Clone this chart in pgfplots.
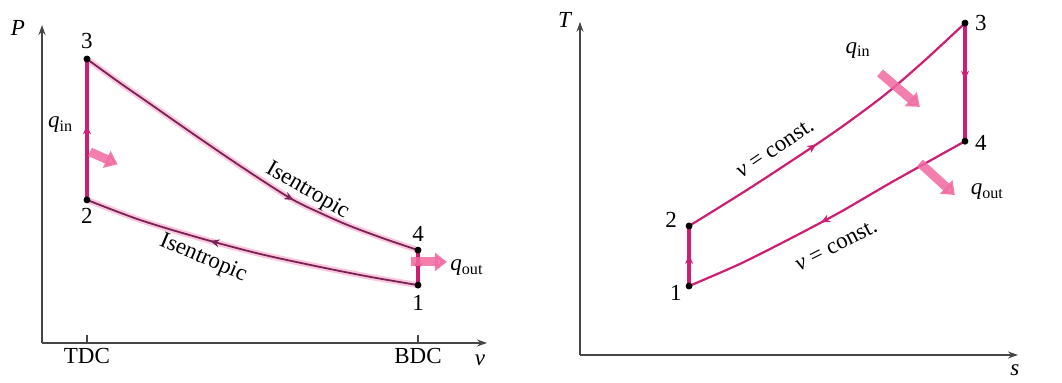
\documentclass[border=0pt]{standalone}
\usepackage{pgfplots}
\pgfplotsset{compat=1.18}
\usepackage{fontspec}
\setmainfont{Liberation Serif}
\usetikzlibrary{arrows.meta,decorations.markings}

\definecolor{mag}{RGB}{205,30,115}
\definecolor{darkmag}{RGB}{120,35,85}
\definecolor{halo}{RGB}{250,160,200}
\definecolor{heat}{RGB}{240,105,160}
\definecolor{axisgray}{RGB}{70,70,70}

\tikzset{
  midarrow/.style={postaction={decorate}, decoration={markings, mark=at position #1 with {\arrow{Stealth[length=4.5pt,width=4pt]}}}},
  heatarrow/.style={line width=4.5pt, heat, opacity=0.85, -{Triangle[length=6pt,width=9pt]}},
}

\pgfplotsset{
  cyc/.style={scale only axis, axis lines=left, xmin=0, xmax=10, ymin=0, ymax=10,
    axis line style={axisgray, line width=0.7pt, -{Stealth[length=5pt,width=3.5pt]}},
    clip=false, ytick=\empty, font=\fontsize{11.5}{13}\selectfont,
    tick style={axisgray, line width=0.7pt}}
}

\begin{document}
\begin{tikzpicture}
\path[use as bounding box] (0,0) rectangle (531pt,191.5pt);

% ---------------- P-v diagram ----------------
\begin{axis}[cyc, at={(21pt,20pt)}, anchor=south west, width=222.5pt, height=159pt,
  xtick={1.01,8.45}, xticklabels={TDC,BDC}, tick align=inside, major tick length=4pt,
  xticklabel style={yshift=1pt}]
  % halos
  \addplot[halo, line width=3pt, opacity=0.6, smooth] coordinates {
    (1.01,8.93) (1.75,8.18) (2.43,7.52) (3.33,6.64) (4.45,5.57) (5.57,4.56) (6.25,4.09) (6.92,3.68) (7.71,3.27) (8.45,2.92)};
  \addplot[halo, line width=3pt, opacity=0.6, smooth] coordinates {
    (8.45,1.82) (7.37,2.08) (6.25,2.39) (4.90,2.80) (3.55,3.30) (2.20,3.87) (1.01,4.50)};
  % isentropic expansion 3-4
  \addplot[darkmag, line width=0.9pt, smooth, midarrow=0.65] coordinates {
    (1.01,8.93) (1.75,8.18) (2.43,7.52) (3.33,6.64) (4.45,5.57) (5.57,4.56) (6.25,4.09) (6.92,3.68) (7.71,3.27) (8.45,2.92)};
  % isentropic compression 1-2
  \addplot[darkmag, line width=0.9pt, smooth, midarrow=0.62] coordinates {
    (8.45,1.82) (7.37,2.08) (6.25,2.39) (4.90,2.80) (3.55,3.30) (2.20,3.87) (1.01,4.50)};
  % constant volume 2-3 and 4-1
  \addplot[mag, line width=1.6pt, midarrow=0.53] coordinates {(1.01,4.50) (1.01,8.93)};
  \addplot[mag, line width=1.6pt, midarrow=0.62] coordinates {(8.45,2.92) (8.45,1.82)};
  % heat arrows
  \draw[heatarrow] (axis cs:1.08,6.01) -- (axis cs:1.70,5.62);
  \draw[heatarrow] (axis cs:8.30,2.55) -- (axis cs:9.10,2.55);
  % state points
  \addplot[only marks, mark=*, mark size=1.5pt, black] coordinates {(1.01,8.93) (1.01,4.50) (8.45,2.92) (8.45,1.82)};
  % labels
  \node at (axis cs:1.01,9.50) {3};
  \node at (axis cs:1.01,4.00) {2};
  \node at (axis cs:8.45,3.42) {4};
  \node at (axis cs:8.45,1.27) {1};
  \node at (axis cs:0.42,6.86) {\textit{q}\textsubscript{in}};
  \node at (axis cs:9.55,2.36) {\textit{q}\textsubscript{out}};
  \node[rotate=-30] at (axis cs:5.96,4.78) {Isentropic};
  \node[rotate=-23] at (axis cs:3.62,2.66) {Isentropic};
  \node at (axis cs:-0.54,9.90) {\textit{P}};
  \node at (axis cs:9.84,-0.53) {\textit{v}};
\end{axis}

% ---------------- T-s diagram ----------------
\begin{axis}[cyc, at={(290pt,14pt)}, anchor=south west, width=219pt, height=166.6pt,
  ymax=10.1, xtick=\empty]
  % constant volume 2-3
  \addplot[mag, line width=1.1pt, smooth, midarrow=0.44] coordinates {
    (2.49,3.91) (3.88,5.06) (5.37,6.36) (6.16,7.09) (7.01,7.94) (7.88,8.94) (8.79,10.06)};
  % constant volume 4-1
  \addplot[mag, line width=1.1pt, smooth, midarrow=0.53] coordinates {
    (8.79,6.48) (7.08,5.21) (5.94,4.33) (4.79,3.52) (3.65,2.76) (2.49,2.09)};
  % isentropic 1-2 and 3-4
  \addplot[mag, line width=1.6pt, midarrow=0.52] coordinates {(2.49,2.09) (2.49,3.91)};
  \addplot[mag, line width=1.6pt, midarrow=0.48] coordinates {(8.79,10.06) (8.79,6.48)};
  % heat arrows
  \draw[heatarrow] (axis cs:6.85,8.55) -- (axis cs:7.76,7.52);
  \draw[heatarrow] (axis cs:7.76,5.82) -- (axis cs:8.56,4.85);
  % state points
  \addplot[only marks, mark=*, mark size=1.5pt, black] coordinates {(2.49,2.09) (2.49,3.91) (8.79,10.06) (8.79,6.48)};
  % labels
  \node at (axis cs:2.08,4.09) {2};
  \node at (axis cs:2.19,1.88) {1};
  \node at (axis cs:9.15,10.06) {3};
  \node at (axis cs:9.15,6.42) {4};
  \node at (axis cs:6.35,9.24) {\textit{q}\textsubscript{in}};
  \node at (axis cs:9.30,4.94) {\textit{q}\textsubscript{out}};
  \node[rotate=34] at (axis cs:4.45,6.25) {\textit{v} = const.};
  \node[rotate=27] at (axis cs:5.85,3.32) {\textit{v} = const.};
  \node at (axis cs:-0.34,10.15) {\textit{T}};
  \node at (axis cs:9.93,-0.45) {\textit{s}};
\end{axis}
\end{tikzpicture}
\end{document}
